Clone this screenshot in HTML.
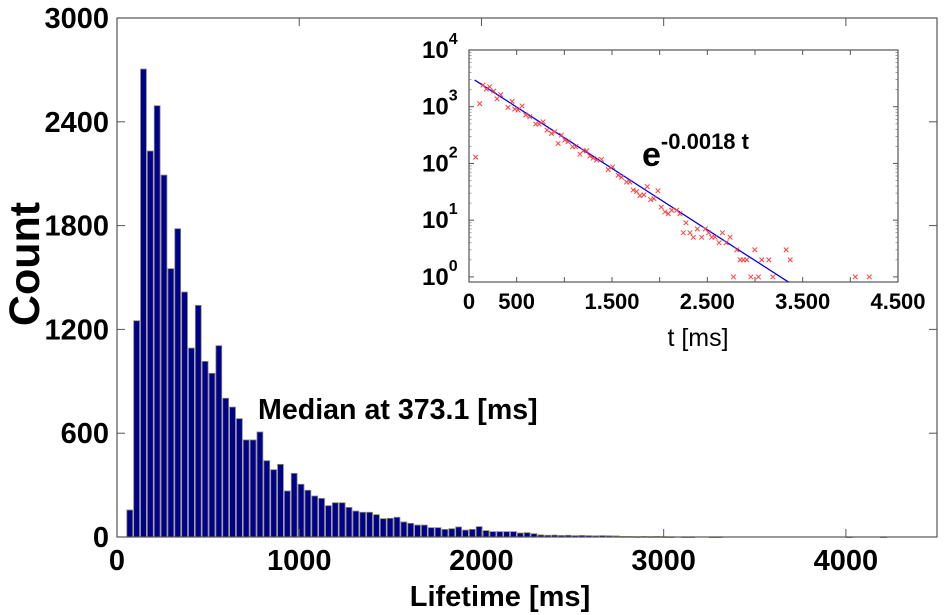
<!DOCTYPE html>
<html><head><meta charset="utf-8"><style>
html,body{margin:0;padding:0;background:#fff;}
svg{display:block;font-family:"Liberation Sans",Arial,sans-serif;}
</style></head><body>
<svg id="chart" width="945" height="615" viewBox="0 0 945 615">
<g id="main"></g>
<g id="inset"></g>
</svg>
<script>
// ---- main histogram data ----
const binStart = 70;
const binWidth = 37.6;
const counts = [156,1250,2705,2231,2493,2092,1551,1782,1416,1092,1339,1015,946,1106,802,751,684,561,561,607,441,389,420,266,368,305,270,
237,223,181,198,198,171,150,143,143,129,106,108,114,87,79,69,69,54,54,44,48,58,40,44,60,37,31,31,31,31,23,25,19,
12,10,11,9,10,8,9,8,7,8,7,6,3,3,2,3,2,3,2,1,0,1,1,0,0,1,1,0,0,0,0,0,0,0,0,0,0,0,0,0,0,0,0,0,0,1,0,0,0,0,1];
const xTicks = [0,1000,2000,3000,4000];
const yTicks = [0,600,1200,1800,2400,3000];
const medianLabel = "Median at 373.1 [ms]";
// ---- inset data ----
const insetT = [70,112,147,182,217,259,294,333,410,452,480,515,557,595,637,700,735,777,819,865,900,935,970,1005,1040,1086,1121,1163,1198,1233,1268,1303,1338,1390,1460,1506,1565,1600,1653,1688,1723,1758,1793,1835,1870,1905,1940,1982,2017,2056,2091,2126,2178,2213,2276,2248,2318,2353,2395,2441,2479,2514,2546,2581,2623,2658,2697,2739,2774,2809,2844,2879,2914,2956,2998,3036,3071,3145,3187,3327,3369,4052,4199];
const insetN = [129,1130,2410,2050,2250,1890,1380,1630,973,1240,910,874,1030,713,667,494,494,543,387,338,362,225,316,258,241,197,197,146,167,167,135,124,115,118,78,87,62,57,47,47,34,32,27,28,39,23,24,33,17,14,13,15,15,13,9,6,6,5,7,5,7,6,5,5,4,6,4,5,1,3,2,2,2,1,3,1,2,2,1,3,2,1,1];
const fitLog10Intercept = 3.535;
const fitLog10Slope = -0.001082;
const fitRange = [60,3351];
const insetXTicks = [0,500,1500,2500,3500,4500];
const insetXLabels = ["0","500","1.500","2.500","3.500","4.500"];
const insetXMinor = [1000,2000,3000,4000];
const insetYExp = [0,1,2,3,4];

const NS="http://www.w3.org/2000/svg";
function mk(tag,attrs,parent){const e=document.createElementNS(NS,tag);for(const k in attrs)e.setAttribute(k,attrs[k]);parent.appendChild(e);return e;}

const M={l:117,r:937,t:18,b:537,xmin:0,xmax:4500,ymin:0,ymax:3000};
const mx=v=>M.l+(v-M.xmin)/(M.xmax-M.xmin)*(M.r-M.l);
const my=v=>M.b-(v-M.ymin)/(M.ymax-M.ymin)*(M.b-M.t);
const gm=document.getElementById('main');
counts.forEach((c,i)=>{
  if(c<=0) return;
  const x0=mx(binStart+i*binWidth-binWidth/2), x1=mx(binStart+i*binWidth+binWidth/2);
  const r=mk('rect',{x:x0+0.5,y:my(c),width:Math.max(0.5,x1-x0-1),height:Math.max(0.8,my(0)-my(c)),fill:'#00008f',stroke:'#8a8a70','stroke-width':0.8},gm);
  
  
});
const frame=mk('rect',{x:M.l,y:M.t,width:M.r-M.l,height:M.b-M.t,fill:'none',stroke:'#555','stroke-width':1.2},gm);


xTicks.forEach(v=>{
  mk('line',{x1:mx(v),x2:mx(v),y1:M.b,y2:M.b-8,stroke:'#555'},gm);
  mk('line',{x1:mx(v),x2:mx(v),y1:M.t,y2:M.t+8,stroke:'#555'},gm);
  const t=mk('text',{x:mx(v),y:570,'text-anchor':'middle','font-size':29,'font-weight':'bold'},gm);t.textContent=v;
  
  
});
yTicks.forEach(v=>{
  mk('line',{x1:M.l,x2:M.l+8,y1:my(v),y2:my(v),stroke:'#555'},gm);
  mk('line',{x1:M.r,x2:M.r-8,y1:my(v),y2:my(v),stroke:'#555'},gm);
  const t=mk('text',{x:109,y:my(v)+10,'text-anchor':'end','font-size':29,'font-weight':'bold'},gm);t.textContent=v;
  
  
});
let t=mk('text',{x:500,y:606,'text-anchor':'middle','font-size':29,'font-weight':'bold'},gm);t.textContent='Lifetime [ms]';


t=mk('text',{x:0,y:0,'text-anchor':'middle','font-size':43,'font-weight':'bold',transform:'translate(39,264) rotate(-90)'},gm);t.textContent='Count';


t=mk('text',{x:258,y:419,'font-size':28.6,'font-weight':'bold'},gm);t.textContent=medianLabel;



// inset
const I={l:469,r:898,t:50,b:282,xmin:0,xmax:4500,lmin:-0.09,lmax:4};
const ix=v=>I.l+(v-I.xmin)/(I.xmax-I.xmin)*(I.r-I.l);
const iyl=l=>I.b-(l-I.lmin)/(I.lmax-I.lmin)*(I.b-I.t);
const iy=v=>iyl(Math.log10(v));
const gi=document.getElementById('inset');
const bg=mk('rect',{x:I.l,y:I.t,width:I.r-I.l,height:I.b-I.t,fill:'#fff',stroke:'#555','stroke-width':1.2},gi);


insetXTicks.concat(insetXMinor).forEach(v=>{
  mk('line',{x1:ix(v),x2:ix(v),y1:I.b,y2:I.b-5,stroke:'#555'},gi);
  mk('line',{x1:ix(v),x2:ix(v),y1:I.t,y2:I.t+5,stroke:'#555'},gi);
});
insetXTicks.forEach((v,i)=>{
  const e=mk('text',{x:ix(v),y:309,'text-anchor':'middle','font-size':22,'font-weight':'bold'},gi);e.textContent=insetXLabels[i];
  
  
});
insetYExp.forEach(p=>{
  mk('line',{x1:I.l,x2:I.l+5,y1:iyl(p),y2:iyl(p),stroke:'#555'},gi);
  mk('line',{x1:I.r,x2:I.r-5,y1:iyl(p),y2:iyl(p),stroke:'#555'},gi);
  for(let k=2;k<10&&p<4;k++){const l=p+Math.log10(k);
    mk('line',{x1:I.l,x2:I.l+2.5,y1:iyl(l),y2:iyl(l),stroke:'#777','stroke-width':0.7},gi);
    mk('line',{x1:I.r,x2:I.r-2.5,y1:iyl(l),y2:iyl(l),stroke:'#777','stroke-width':0.7},gi);}
  const e=mk('text',{x:422,y:iyl(p)+8,'font-size':24,'font-weight':'bold'},gi);
  
  
  e.textContent='10';
  const s=mk('tspan',{dy:-14,'font-size':16},e);s.textContent=p;
});
const fl=mk('line',{x1:ix(fitRange[0]),y1:iyl(fitLog10Intercept+fitLog10Slope*fitRange[0]),x2:ix(fitRange[1]),y2:iyl(fitLog10Intercept+fitLog10Slope*fitRange[1]),stroke:'#0000ee','stroke-width':1.3},gi);


insetT.forEach((tv,i)=>{
  const cx=ix(tv), cy=iy(insetN[i]);
  const p=mk('path',{d:`M${cx-2.3},${cy-2.3}L${cx+2.3},${cy+2.3}M${cx-2.3},${cy+2.3}L${cx+2.3},${cy-2.3}`,stroke:'#ff4040','stroke-width':1},gi);
  
  
});
t=mk('text',{x:642,y:166,'font-size':34,'font-weight':'bold'},gi);t.textContent='e';


const sup=mk('tspan',{dy:-17,'font-size':22},t);sup.textContent='-0.0018 t';
t=mk('text',{x:698,y:346,'text-anchor':'middle','font-size':25},gi);t.textContent='t [ms]';


</script>
</body></html>
